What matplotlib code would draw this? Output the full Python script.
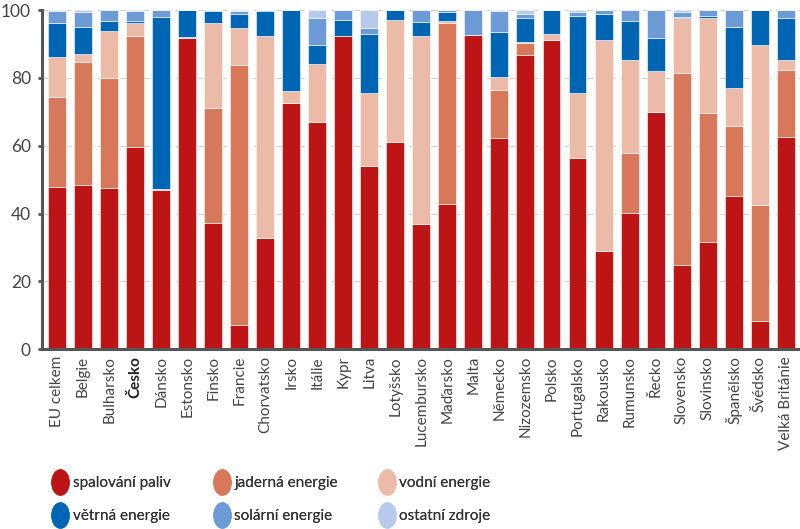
import matplotlib
matplotlib.use("Agg")
import matplotlib.pyplot as plt
import numpy as np
from matplotlib.path import Path
from matplotlib.transforms import Affine2D
from matplotlib.lines import Line2D

countries = [
    "EU celkem", "Belgie", "Bulharsko", "Česko", "Dánsko", "Estonsko", "Finsko",
    "Francie", "Chorvatsko", "Irsko", "Itálie", "Kypr", "Litva", "Lotyšsko",
    "Lucembursko", "Maďarsko", "Malta", "Německo", "Nizozemsko", "Polsko",
    "Portugalsko", "Rakousko", "Rumunsko", "Řecko", "Slovensko", "Slovinsko",
    "Španělsko", "Švédsko", "Velká Británie",
]

# cumulative tops (%)
top_fuel = [47.8, 48.4, 47.6, 59.5, 46.9, 91.9, 37.3, 7.2, 32.8, 72.6, 67.0, 92.2, 54.0, 61.0,
            36.8, 42.9, 92.5, 62.2, 86.6, 91.1, 56.3, 28.9, 40.1, 69.9, 24.7, 31.7, 45.3, 8.2, 62.5]
top_nuclear = [74.5, 84.8, 80.1, 92.3, 46.9, 91.9, 71.1, 83.8, 32.8, 72.6, 67.0, 92.2, 54.0, 61.0,
               36.8, 96.3, 92.5, 76.3, 90.4, 91.1, 56.3, 28.9, 57.8, 69.9, 81.5, 69.5, 65.8, 42.4, 82.4]
top_hydro = [86.3, 87.0, 93.7, 96.3, 47.2, 92.1, 96.3, 94.6, 92.2, 76.0, 84.0, 92.2, 75.5, 97.1,
             92.4, 96.8, 92.5, 80.3, 90.5, 92.8, 75.5, 91.1, 85.2, 82.1, 97.7, 97.8, 77.0, 89.7, 85.2]
top_wind = [96.2, 95.0, 96.7, 96.9, 98.0, 100.0, 99.7, 98.7, 99.7, 100.0, 89.6, 97.0, 93.0, 100.0,
            96.4, 99.5, 92.5, 93.5, 97.8, 100.0, 98.2, 98.7, 96.8, 91.9, 97.9, 98.2, 94.9, 100.0, 97.8]
top_solar = [99.6, 99.3, 100.0, 99.8, 100.0, 100.0, 100.0, 99.8, 100.0, 100.0, 97.7, 100.0, 94.7, 100.0,
             100.0, 100.0, 100.0, 99.7, 98.8, 100.0, 99.5, 100.0, 100.0, 100.0, 99.5, 100.0, 100.0, 100.0, 100.0]
top_other = [100.0] * len(countries)

series_labels = ["spalování paliv", "jaderná energie", "vodní energie",
                 "větrná energie", "solární energie", "ostatní zdroje"]
colors = ["#BD1416", "#D8785A", "#ECBBA7", "#0066B3", "#6C9BD6", "#B8CAEC"]

tops = np.array([top_fuel, top_nuclear, top_hydro, top_wind, top_solar, top_other])
bottoms = np.vstack([np.zeros(len(countries)), tops[:-1]])
heights = tops - bottoms

plt.rcParams["font.family"] = ["Lato", "DejaVu Sans"]

fig = plt.figure(figsize=(8.0, 5.29), dpi=100)
ax = fig.add_axes([0.0525, 0.340, 0.9475, 0.641])

x = np.arange(len(countries))
for i in range(len(series_labels)):
    ax.bar(x, heights[i], bottom=bottoms[i], width=0.69, color=colors[i],
           edgecolor="white", linewidth=0.4, zorder=2)

ax.set_xlim(-0.58, len(countries) - 0.45)
ax.set_ylim(0, 100)
ax.set_yticks([0, 20, 40, 60, 80, 100])
ax.yaxis.grid(True, color="#d0d0d0", linestyle=(0, (6, 4)), linewidth=0.8, zorder=0)
ax.tick_params(axis="y", length=3, width=2, color="#555555", labelsize=12.5,
               labelcolor="#444444", pad=5)
ax.tick_params(axis="x", length=0, pad=5)
ax.set_xticks(x)
ax.set_xticklabels(countries, rotation=90, fontsize=11, color="#444444")
for lab in ax.get_xticklabels():
    if lab.get_text() == "Česko":
        lab.set_fontweight("bold")
        lab.set_color("#222222")

for side in ["top", "right"]:
    ax.spines[side].set_visible(False)
for side in ["left", "bottom"]:
    ax.spines[side].set_color("#555555")
    ax.spines[side].set_linewidth(2.2)

# legend: three columns, each holding two entries (row 1: first three series)
ellipse = Path.unit_circle().transformed(Affine2D().scale(0.68, 1.0))
col_x = [0.066, 0.268, 0.474]
for col in range(3):
    idx = [col, col + 3]
    handles = [Line2D([], [], linestyle="none", marker=ellipse, markersize=18,
                      markerfacecolor=colors[k], markeredgecolor=colors[k]) for k in idx]
    leg = fig.legend(handles, [series_labels[k] for k in idx], loc="center left",
                     bbox_to_anchor=(col_x[col], 0.055), frameon=False, fontsize=11,
                     labelcolor="#333333", handletextpad=0.3, labelspacing=1.25,
                     handlelength=1.0, borderaxespad=0.0, borderpad=0.0)
    fig.add_artist(leg)

fig.savefig("out.png", dpi=100, facecolor="white")
